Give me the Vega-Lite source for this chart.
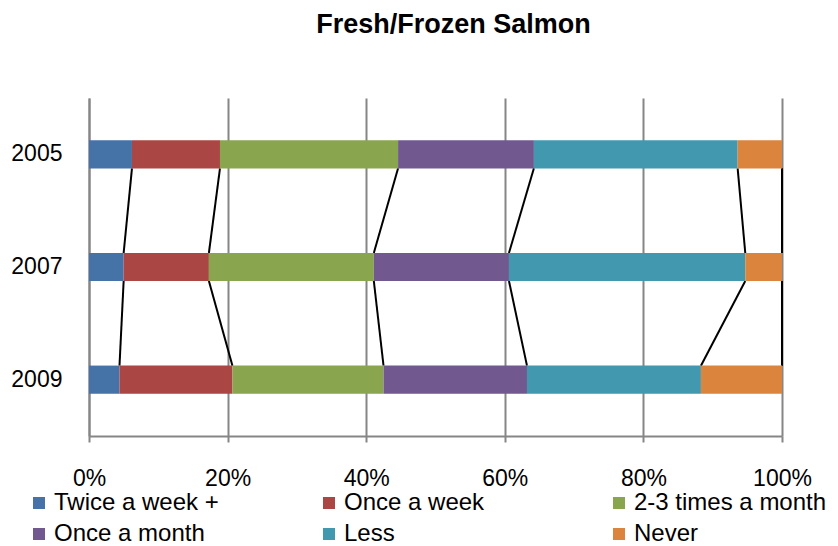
{
  "$schema": "https://vega.github.io/schema/vega-lite/v6.json",
  "width": 693,
  "height": 338,
  "autosize": {"type": "none"},
  "padding": {"left": 89, "top": 98, "right": 56, "bottom": 110},
  "background": "white",
  "config": {"view": {"stroke": null}, "font": "Liberation Sans"},
  "title": {"text": "Fresh/Frozen Salmon", "font": "Liberation Sans", "fontSize": 27, "fontWeight": "bold", "color": "black", "anchor": "middle", "frame": "group", "offset": 59, "dx": 18},
  "data": {"values": [
    {"year": "2005", "cat": "Twice a week +", "order": 1, "value": 6.2},
    {"year": "2005", "cat": "Once a week", "order": 2, "value": 12.7},
    {"year": "2005", "cat": "2-3 times a month", "order": 3, "value": 25.7},
    {"year": "2005", "cat": "Once a month", "order": 4, "value": 19.6},
    {"year": "2005", "cat": "Less", "order": 5, "value": 29.4},
    {"year": "2005", "cat": "Never", "order": 6, "value": 6.4},
    {"year": "2007", "cat": "Twice a week +", "order": 1, "value": 5.0},
    {"year": "2007", "cat": "Once a week", "order": 2, "value": 12.3},
    {"year": "2007", "cat": "2-3 times a month", "order": 3, "value": 23.8},
    {"year": "2007", "cat": "Once a month", "order": 4, "value": 19.5},
    {"year": "2007", "cat": "Less", "order": 5, "value": 34.1},
    {"year": "2007", "cat": "Never", "order": 6, "value": 5.3},
    {"year": "2009", "cat": "Twice a week +", "order": 1, "value": 4.4},
    {"year": "2009", "cat": "Once a week", "order": 2, "value": 16.3},
    {"year": "2009", "cat": "2-3 times a month", "order": 3, "value": 21.8},
    {"year": "2009", "cat": "Once a month", "order": 4, "value": 20.7},
    {"year": "2009", "cat": "Less", "order": 5, "value": 25.1},
    {"year": "2009", "cat": "Never", "order": 6, "value": 11.7}
  ]},
  "layer": [
    {
      "transform": [
        {"window": [{"op": "sum", "field": "value", "as": "cum"}], "groupby": ["year"], "sort": [{"field": "order"}], "frame": [null, 0]},
        {"window": [{"op": "lead", "field": "cum", "as": "nextCum"}, {"op": "lead", "field": "year", "as": "nextYear"}], "groupby": ["cat"], "sort": [{"field": "year"}], "frame": [null, null]},
        {"filter": "datum.nextYear != null"}
      ],
      "mark": {"type": "rule", "color": "black", "strokeWidth": 2, "yOffset": 14, "y2Offset": -14},
      "encoding": {
        "x": {"field": "cum", "type": "quantitative"},
        "x2": {"field": "nextCum"},
        "y": {"field": "year", "type": "nominal"},
        "y2": {"field": "nextYear"}
      }
    },
    {
      "mark": {"type": "bar"},
      "encoding": {
        "y": {"field": "year", "type": "nominal", "sort": ["2005", "2007", "2009"],
          "scale": {"paddingInner": 0.75, "paddingOuter": 0.375},
          "axis": {"title": null, "ticks": false, "tickSize": 0, "labelPadding": 27, "labelFontSize": 23, "labelColor": "black", "labelFont": "Liberation Sans", "domainColor": "#868686", "domainWidth": 2, "grid": false}},
        "x": {"field": "value", "type": "quantitative", "stack": "zero",
          "scale": {"domain": [0, 100], "nice": false},
          "axis": {"title": null, "values": [0, 20, 40, 60, 80, 100], "labelExpr": "datum.value + '%'", "labelFontSize": 23, "labelColor": "black", "labelFont": "Liberation Sans", "labelPadding": 25, "tickSize": 6, "tickColor": "#868686", "tickWidth": 2, "domainColor": "#868686", "domainWidth": 2, "grid": true, "gridColor": "#868686", "gridWidth": 2, "labelFlush": false}},
        "color": {"field": "cat", "type": "nominal",
          "scale": {"domain": ["Twice a week +", "Once a week", "2-3 times a month", "Once a month", "Less", "Never"],
            "range": ["#4572A7", "#AA4643", "#89A54E", "#71588F", "#4198AF", "#DB843D"]},
          "legend": {"title": null, "orient": "none", "legendX": -62, "legendY": 393, "direction": "horizontal", "columns": 3, "gridAlign": "all", "columnPadding": 70, "rowPadding": 7, "symbolType": "square", "symbolSize": 144, "symbolStrokeWidth": 0, "labelFontSize": 24, "labelFont": "Liberation Sans", "labelColor": "black", "labelOffset": 3, "labelLimit": 400}},
        "order": {"field": "order", "type": "quantitative"}
      }
    }
  ]
}
